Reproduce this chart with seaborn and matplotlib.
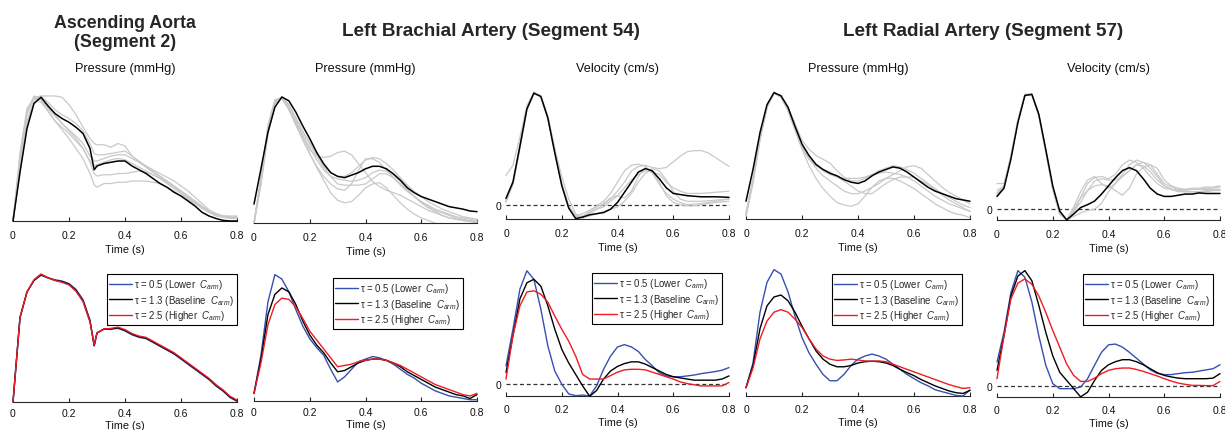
import numpy as np
import matplotlib
matplotlib.use("Agg")
import matplotlib.pyplot as plt
import seaborn as sns

# ---------------- data (normalised units) ----------------
t = [0, .025, .05, .075, .1, .125, .15, .175, .2, .225, .25, .275, .3, .325, .35, .375, .4,
     .425, .45, .475, .5, .525, .55, .575, .6, .625, .65, .675, .7, .725, .75, .775, .8]
t_aorta = [0, .025, .05, .075, .1, .125, .15, .175, .2, .225, .25, .275, .29, .3, .325, .35, .375, .4,
           .425, .45, .475, .5, .525, .55, .575, .6, .625, .65, .675, .7, .725, .75, .775, .8]

# Ascending aorta pressure (top)
aorta_p_mean = [0, 39, 74, 94, 99, 92, 86, 82, 79, 75, 70, 58, 41, 44, 46, 47, 48, 48, 44, 41, 38, 34,
                30, 27, 23, 20, 16, 12, 7, 4, 2, 0.5, 0, 0]
aorta_p_g1 = [0, 45, 85, 99, 100, 100, 100, 99, 93, 85, 75, 66, 62, 61, 61, 59, 62, 60, 52, 47, 43, 39,
              35, 32, 28, 24, 20, 15, 11, 7, 5, 4, 4, 4]
aorta_p_g2 = [0, 55, 90, 98, 95, 88, 80, 73, 66, 58, 50, 38, 29, 27, 30, 30, 31, 31, 32, 32, 32, 31,
              30, 27, 24, 20, 17, 14, 11, 8, 5, 3, 3, 2]
aorta_p_g3 = [0, 48, 88, 99, 97, 90, 84, 78, 72, 66, 58, 47, 38, 36, 37, 37, 38, 38, 39, 40, 39, 37,
              34, 30, 26, 22, 18, 14, 10, 7, 5, 4, 3, 3]
aorta_p_g4 = [0, 42, 80, 97, 100, 95, 89, 85, 82, 78, 72, 62, 54, 53, 53, 54, 55, 56, 52, 48, 44, 40,
              36, 32, 28, 24, 20, 16, 12, 8, 6, 4, 3, 3]
aorta_p_g5 = [0, 40, 78, 95, 99, 93, 85, 78, 73, 68, 62, 52, 48, 48, 50, 52, 53, 53, 50, 47, 44, 41,
              38, 35, 32, 28, 24, 19, 14, 9, 6, 4, 3, 3]
aorta_p_g6 = [0, 50, 88, 100, 97, 88, 80, 75, 70, 64, 58, 48, 44, 45, 47, 49, 50, 49, 46, 43, 40, 37,
              34, 31, 27, 23, 19, 15, 11, 7, 4, 3, 2, 2]

# Ascending aorta pressure (bottom, tau variants)
aorta_tau05 = [0, 66, 86, 95, 99, 97, 95.5, 94.5, 92.5, 88, 80, 64, 44, 54, 57, 57, 57.5, 55.5, 52.5,
               50.5, 49.5, 46.5, 43.5, 40.5, 37.5, 33.5, 29.5, 25.5, 21.5, 17.5, 12.5, 8.5, 3.5, 0.5]
aorta_tau13 = [0, 66, 86, 95, 99.5, 97, 95, 94, 92, 87, 79, 63, 44, 54, 57, 57, 58, 56, 53, 51, 50,
               47, 44, 41, 38, 34, 30, 26, 22, 18, 13, 9, 4, 1]
aorta_tau25 = [0, 66, 86, 95.5, 100, 97, 95, 93.5, 91.5, 86.5, 78.5, 62.5, 44.5, 54, 57, 57.5, 58.5,
               56.5, 53.5, 51.5, 50.5, 47.5, 44.5, 41.5, 38.5, 34.5, 30.5, 26.5, 22.5, 18.5, 13.5, 9.5,
               4.5, 1.5]

# Left brachial pressure (top)
brach_p_mean = [15, 43, 72, 92, 100, 97, 88, 77, 67, 56, 47, 40, 37, 36, 38, 40, 43, 45, 45, 43, 39,
                34, 28, 24, 21, 19, 17, 15, 13, 12, 11, 9.5, 9]
brach_p_g1 = [0, 30, 70, 95, 99, 90, 78, 66, 55, 44, 34, 24, 18, 16, 17, 22, 28, 31, 32, 28, 22, 16,
              11, 7, 4, 2, 0, np.nan, np.nan, np.nan, np.nan, np.nan, np.nan]
brach_p_g2 = [0, 35, 75, 97, 100, 92, 80, 68, 58, 53, 52, 53, 56, 57, 54, 47, 40, 33, 29, 26, 24, 22,
              19, 16, 13, 10, 8, 6, 4, 3, 2, 1.5, 1]
brach_p_g3 = [0, 33, 73, 96, 99, 90, 78, 66, 55, 45, 37, 31, 27, 26, 31, 42, 51, 51, 48, 42, 36, 30,
              25, 21, 17, 14, 11, 9, 7, 5, 4, 3, 2]
brach_p_g4 = [0, 36, 78, 98, 99, 92, 82, 72, 64, 54, 45, 40, 37, 37, 40, 45, 50, 52, 51, 47, 42, 36,
              30, 25, 21, 17, 14, 11, 9, 7, 5, 4, 3]
brach_p_g5 = [0, 32, 72, 95, 100, 93, 80, 70, 60, 50, 42, 37, 35, 34, 33, 34, 36, 40, 42, 41, 38, 33,
              27, 21, 16, 12, 9, 6, 4, 3, 2, 1, 0]
brach_p_g6 = [0, 34, 74, 96, 100, 94, 84, 73, 63, 53, 44, 37, 31, 30, 30, 30, 31, 35, 39, 39, 36, 31,
              26, 21, 17, 13, 10, 8, 6, 4, 3, 2, 1]

# Left brachial velocity (top)
brach_v_mean = [5.6, 20, 52, 85, 99, 96, 77, 46, 17, -3, -12.4, -11, -9, -8, -7, -4, 2, 11, 20, 29, 32,
                30, 23, 15, 10, 9, 8, 7.5, 7, 7, 7, 6.8, 6.5]
brach_v_g1 = [26, 35, 60, 88, 99, 96, 78, 50, 25, 5, -8, -12, -8, -4, 0, 5, 12, 20, 30, 34, 35, 33, 32,
              33, 38, 43, 47, 48, 48, 46, 42, 38, 34]
brach_v_g2 = [2, 18, 50, 84, 99, 97, 79, 49, 19, -1, -10, -11, -6, -2, 1, 6, 8, 6, 12, 25, 33, 30, 20,
              8, 2, 0, -1, -1, 0, 1, 2, 2.5, 3]
brach_v_g3 = [4, 20, 53, 86, 100, 96, 77, 47, 18, -2, -11, -11, -10, -8, -6, -4, -2, 3, 10, 20, 28, 32,
              30, 22, 12, 5, 3, 3, 3, 3.5, 4, 4.5, 5]
brach_v_g4 = [3, 19, 51, 85, 99, 96, 77, 47, 18, -2, -10, -8, -5, -1, 3, 10, 20, 30, 35, 36, 34, 28,
              18, 10, 5, 2, 0, 0.5, 1, 2, 3, 4, 5]
brach_v_g5 = [6, 21, 52, 85, 99, 96, 78, 48, 18, -2, -11, -10, -7, -4, -2, 3, 8, 15, 22, 27, 30, 29,
              27, 20, 15, 12, 10, 10, 10, 10.5, 11, 11.5, 12]

# Left radial pressure (top)
radial_p_mean = [14, 39, 68, 90, 99.5, 97, 88, 73, 59, 50, 43, 39, 36, 34, 31, 29, 28, 30, 34, 37, 39,
                 41, 40, 37, 33, 29, 25, 22, 20, 18, 16, 15, 14]
radial_p_g1 = [3, 30, 63, 88, 99, 96, 85, 70, 55, 42, 32, 24, 18, 13, 11, 10, 12, 18, 25, 30, 32, 32,
               30, 27, 24, 20, 16, 12, 9, 6, 4, 3, 1]
radial_p_g2 = [2, 28, 62, 88, 99, 97, 86, 72, 58, 48, 40, 34, 30, 26, 22, 20, 20, 22, 25, 28, 32, 35,
               38, 41, 42, 40, 35, 30, 25, 21, 18, 15, 12]
radial_p_g3 = [5, 32, 66, 89, 99, 97, 88, 75, 62, 55, 50, 47, 44, 38, 33, 30, 30, 32, 35, 38, 40, 42,
               41, 39, 36, 32, 28, 24, 20, 17, 14, 11, 9]
radial_p_g4 = [4, 31, 64, 88, 99, 96, 86, 71, 56, 47, 42, 38, 35, 33, 32, 32, 32, 33, 35, 36, 37, 36,
               35, 33, 30, 26, 22, 18, 15, 12, 10, 8, 6]
radial_p_g5 = [3, 30, 64, 89, 100, 96, 86, 72, 58, 48, 42, 39, 37, 33, 30, 26, 22, 20, 20, 24, 28, 31,
               33, 33, 33, 30, 27, 23, 19, 15, 12, 9, 6]

# Left radial velocity (top)
radial_v_mean = [11, 18, 43, 74, 97, 98, 81, 51, 20, -1.5, -9, -4, 1.5, 4, 7, 13, 20, 27, 33, 35.5, 33,
                 26, 18, 13, 11, 11, 12, 13, 13, 14, 13.5, 13.5, 13.5]
radial_v_g1 = [22, 22, 45, 75, 97, 98, 80, 50, 18, -3, -9, -2, 10, 22, 27, 28, 26, 30, 38, 42, 40, 35,
               28, 22, 18, 17, 16, 16, 17, 17, 18, 18, 19]
radial_v_g2 = [16, 20, 46, 76, 98, 98, 80, 49, 17, -4, -9, 2, 15, 25, 28, 22, 18, 22, 30, 38, 42, 40,
               35, 28, 20, 17, 16, 15, 15, 15, 16, 16, 17]
radial_v_g3 = [14, 19, 45, 76, 98, 98, 80, 49, 17, -4, -9, -2, 6, 16, 24, 26, 25, 25, 28, 33, 38, 40,
               38, 30, 22, 19, 17, 17, 18, 18, 19, 19, 20]
radial_v_g4 = [12, 18, 44, 75, 97, 98, 81, 50, 18, -3, -9, -6, -3, -1, 0, 5, 15, 22, 28, 33, 38, 37,
               32, 25, 20, 17, 15, 15, 15, 15, 15, 16, 16]
radial_v_g5 = [13, 19, 45, 75, 98, 98, 80, 50, 18, -3, -9, 0, 10, 16, 20, 21, 20, 16, 12, 18, 30, 36,
               38, 35, 25, 20, 18, 17, 17, 17, 17, 17, 17]

# Bottom row: tau variants
brach_p_tau05 = [6, 36, 78, 99.5, 96, 86, 72, 59, 49, 42, 36, 25, 15, 19, 25, 31, 33, 35, 34, 32, 29,
                 25, 21, 18, 14, 11, 8, 6, 4, 3, 2, 1, 1]
brach_p_tau13 = [6, 33, 68, 84, 89, 86, 76, 63, 52, 44, 38, 30, 23, 24, 27, 30, 32, 33, 33, 32, 30, 27,
                 23, 20, 17, 14, 11, 9, 7, 5, 4, 2, 5]
brach_p_tau25 = [6, 30, 60, 76, 81, 80, 74, 65, 55, 48, 41, 34, 27, 28, 29, 31, 32, 33, 33, 32, 30, 28,
                 25, 22, 19, 16, 13, 11, 9, 7, 5, 4, 6]

brach_v_tau05 = [15.5, 47.5, 82.5, 98.5, 91, 65, 33, 11, -0.5, -9, -10.5, -10, -10.8, -2, 12.5, 24, 32,
                 34, 32, 28, 21, 15.5, 9.5, 6.7, 6, 6, 6.7, 7.5, 8.7, 9.6, 10.5, 11.7, 14]
brach_v_tau13 = [9.6, 42, 74, 88, 91, 85, 68, 47.5, 30, 18, 8, -2, -11, -6, 4, 11, 15, 17.5, 19, 19, 17,
                 14, 11, 8, 6, 5, 4, 3, 3, 3, 3, 4, 6.7]
brach_v_tau25 = [4, 42, 68, 80, 81, 78, 71, 59, 47.5, 37, 24, 8, 4, 4, 4, 7, 10, 12, 12.5, 12.5, 12, 10,
                 8, 6, 4, 1.5, 0, -1, -2, -2, -2, -2, 1]

radial_p_tau05 = [6.5, 26, 66, 89.5, 99.5, 96, 82, 63, 46, 34, 25, 17, 12, 12, 17, 24, 29, 31.5, 33,
                  31.5, 29, 25, 21, 17, 13.7, 10.5, 8, 5, 3.4, 2, 0.5, 0, 4.7]
radial_p_tau13 = [6.5, 24, 53, 71, 78, 79.5, 75, 66, 55, 45, 35.5, 29, 25, 23, 23, 24, 26, 27, 27.4, 27,
                  26, 24, 21, 18.4, 16, 13, 10.5, 8, 6, 4, 2.6, 2, 4.5]
radial_p_tau25 = [6.5, 22, 45, 59, 66, 68, 66, 60.5, 54, 45, 37, 31.5, 29, 28, 28.4, 29, 28.4, 27.6,
                  27.4, 27.6, 27, 25, 23, 21, 19, 17, 15, 13, 11, 9, 7.4, 6, 6.5]

radial_v_tau05 = [20.7, 46, 80, 98.6, 93, 72, 43, 18, 2.3, -2, -2, -2, -0.6, 6.5, 18, 29, 35.4, 36,
                  33.4, 29, 24, 19, 14, 11, 10, 10, 10.8, 11.6, 12, 13, 14, 15, 18.4]
radial_v_tau13 = [13.6, 43, 77, 94, 98.6, 90, 69, 46, 26, 12, 5, -2, -9, -5, 5, 13.6, 18.4, 21, 22.7,
                  22.7, 21, 18.4, 15, 11.6, 9.3, 8, 7, 6.5, 6.5, 6.5, 6.5, 7, 10.8]
radial_v_tau25 = [6.5, 43, 74.5, 88, 91.5, 87, 77, 63, 47.6, 33.4, 19, 9.3, 4.2, 4.2, 7, 10.8, 13.6, 15,
                  15.6, 15.6, 14.4, 12.7, 10.8, 8.8, 6.5, 4.5, 2.8, 1.7, 0.8, 0.8, 0.6, 0.6, 4.2]

xticks = [0, 0.2, 0.4, 0.6, 0.8]
xtick_labels = ["0", "0.2", "0.4", "0.6", "0.8"]
legend_labels = ["τ = 0.5 (Lower  $C_{arm}$)", "τ = 1.3 (Baseline  $C_{arm}$)",
                 "τ = 2.5 (Higher  $C_{arm}$)"]
group_titles = ["Ascending Aorta\n(Segment 2)", "Left Brachial Artery (Segment 54)",
                "Left Radial Artery (Segment 57)"]
panel_titles = ["Pressure (mmHg)", "Pressure (mmHg)", "Velocity (cm/s)", "Pressure (mmHg)",
                "Velocity (cm/s)"]

# ---------------- styling ----------------
sns.set_theme(style="white")
plt.rcParams['font.family'] = ['Liberation Sans', 'DejaVu Sans']
plt.rcParams['mathtext.fontset'] = 'custom'
plt.rcParams['mathtext.rm'] = 'Liberation Sans'
plt.rcParams['mathtext.it'] = 'Liberation Sans:italic'

W, H = 1225, 431
fig = plt.figure(figsize=(W / 100, H / 100), dpi=100)

BLUE = '#3650b0'
BLACK = '#000000'
RED = '#ee1c24'
GRAY = '#c9c9c9'
AXC = '#262626'


def make_ax(x0, x1, ybot, ytop):
    return fig.add_axes([x0 / W, 1 - ybot / H, (x1 - x0) / W, (ybot - ytop) / H])


def style_ax(ax, ylim, zero=False, tpad=6.5, lpad=3):
    ax.set_xlim(0, 0.8)
    ax.set_ylim(*ylim)
    for s in ['top', 'right', 'left']:
        ax.spines[s].set_visible(False)
    ax.spines['bottom'].set_color(AXC)
    ax.spines['bottom'].set_linewidth(0.8)
    ax.set_xticks(xticks)
    ax.set_xticklabels(xtick_labels)
    ax.tick_params(axis='x', direction='in', length=3, width=0.8, color=AXC,
                   labelsize=7.5, pad=tpad, labelcolor='#111111', bottom=True)
    if zero:
        ax.axhline(0, color='#333333', lw=0.9, ls=(0, (3.2, 2.2)), zorder=1)
        ax.set_yticks([0])
        ax.set_yticklabels(["0"])
        ax.tick_params(axis='y', length=0, pad=3, labelsize=7.5, labelcolor='#111111', left=True)
    else:
        ax.set_yticks([])
    ax.set_xlabel("Time (s)", fontsize=7.8, labelpad=lpad, color='#111111')
    ax.set_facecolor('none')
    ax.grid(False)


def draw(ax, x, y, color, lw, label=None, z=2):
    sns.lineplot(x=x, y=y, ax=ax, color=color, linewidth=lw, legend=False,
                 errorbar=None, sort=False, label=label, zorder=z)


# positions (pixels): x0, x1, y_bottom, y_top
top_pos = [(13, 237, 222, 97), (254, 477, 224, 98), (506, 729, 220, 93),
           (746, 970, 220, 93), (997, 1220, 221, 93)]
bot_pos = [(13, 237, 403, 275), (254, 477, 402, 275), (506, 729, 397, 270),
           (746, 970, 397, 270), (997, 1220, 398, 270)]
bot_pads = [(4.5, 1.5), (4.5, 1.5), (5.5, 2.5), (5.5, 2.5), (5.5, 2.5)]

top_data = [
    (t_aorta, aorta_p_mean, [aorta_p_g1, aorta_p_g2, aorta_p_g3, aorta_p_g4, aorta_p_g5, aorta_p_g6], (0, 100), False),
    (t, brach_p_mean, [brach_p_g1, brach_p_g2, brach_p_g3, brach_p_g4, brach_p_g5, brach_p_g6], (0, 100), False),
    (t, brach_v_mean, [brach_v_g1, brach_v_g2, brach_v_g3, brach_v_g4, brach_v_g5], (-12.7, 100), True),
    (t, radial_p_mean, [radial_p_g1, radial_p_g2, radial_p_g3, radial_p_g4, radial_p_g5], (0, 100), False),
    (t, radial_v_mean, [radial_v_g1, radial_v_g2, radial_v_g3, radial_v_g4, radial_v_g5], (-9.1, 100), True),
]
bot_data = [
    (t_aorta, [aorta_tau05, aorta_tau13, aorta_tau25], (0, 100), False),
    (t, [brach_p_tau05, brach_p_tau13, brach_p_tau25], (0, 100), False),
    (t, [brach_v_tau05, brach_v_tau13, brach_v_tau25], (-10.8, 100), True),
    (t, [radial_p_tau05, radial_p_tau13, radial_p_tau25], (0, 100), False),
    (t, [radial_v_tau05, radial_v_tau13, radial_v_tau25], (-9.1, 100), True),
]
legend_corner = [(237, 275), (463, 279), (722, 274), (962, 275), (1213, 275)]

for i in range(5):
    ax = make_ax(*top_pos[i])
    x, mean, grays, ylim, zero = top_data[i]
    for g in grays:
        draw(ax, x, g, GRAY, 0.9, z=2)
    draw(ax, x, mean, BLACK, 1.1, z=3)
    style_ax(ax, ylim, zero)
    for ln in ax.lines:
        ln.set_clip_on(False)

    axb = make_ax(*bot_pos[i])
    x, series, ylim, zero = bot_data[i]
    for s, c, lab in zip(series, [BLUE, BLACK, RED], legend_labels):
        draw(axb, x, s, c, 1.0, label=lab, z=3)
    style_ax(axb, ylim, zero, *bot_pads[i])
    for ln in axb.lines:
        ln.set_clip_on(False)
    lx, ly = legend_corner[i]
    handles = [l for l in axb.lines if not l.get_label().startswith('_')]
    leg = axb.legend(handles=handles, labels=legend_labels, loc='upper right',
                     bbox_to_anchor=(lx / W, 1 - ly / H), bbox_transform=fig.transFigure,
                     fontsize=6.9, frameon=True, fancybox=False, framealpha=1,
                     edgecolor='#000000', borderaxespad=0, borderpad=0.3,
                     labelspacing=0.18, handlelength=2.4, handletextpad=0.2)
    leg.get_frame().set_linewidth(0.8)

# titles
fig.text(125 / W, 1 - 33 / H, group_titles[0], ha='center', va='center', fontsize=12.8,
         fontweight='bold', linespacing=1.2)
fig.text(491 / W, 1 - 31 / H, group_titles[1], ha='center', va='center', fontsize=13.6,
         fontweight='bold')
fig.text(983 / W, 1 - 31 / H, group_titles[2], ha='center', va='center', fontsize=13.6,
         fontweight='bold')
for i, (x0, x1, _, _) in enumerate(top_pos):
    fig.text((x0 + x1) / 2 / W, 1 - 69 / H, panel_titles[i], ha='center', va='center',
             fontsize=9.2, color='#111111')

fig.savefig("out.png", dpi=100)
